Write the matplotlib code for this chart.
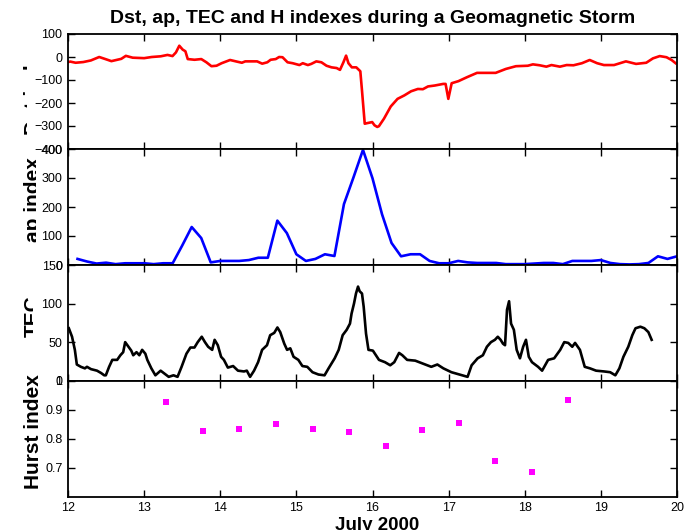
import numpy as np
import matplotlib
matplotlib.use("Agg")
import matplotlib.pyplot as plt
from matplotlib.transforms import Bbox

plt.rcParams['font.family'] = ['Liberation Sans', 'DejaVu Sans']

# ---------------- data ----------------
dst_t = [12.00, 12.03, 12.10, 12.20, 12.30, 12.41, 12.50, 12.57, 12.70, 12.76,
         12.85, 13.00, 13.10, 13.218, 13.307, 13.373, 13.418, 13.462, 13.507, 13.542,
         13.573, 13.662, 13.751, 13.818, 13.884, 13.951, 14.018, 14.129, 14.218, 14.284,
         14.329, 14.418, 14.484, 14.551, 14.618, 14.662, 14.729, 14.773, 14.818, 14.884,
         14.951, 15.04, 15.084, 15.151, 15.196, 15.262, 15.329, 15.396, 15.462, 15.529,
         15.573, 15.618, 15.653, 15.684, 15.729, 15.787, 15.84, 15.862, 15.898, 15.938,
         15.996, 16.027, 16.062, 16.084, 16.151, 16.24, 16.329, 16.418, 16.507, 16.596,
         16.662, 16.729, 16.818, 16.929, 16.96, 16.996, 17.04, 17.129, 17.24, 17.373,
         17.484, 17.618, 17.751, 17.884, 18.04, 18.107, 18.196, 18.284, 18.351, 18.462,
         18.551, 18.64, 18.751, 18.853, 18.951, 19.04, 19.173, 19.329, 19.462, 19.596,
         19.684, 19.773, 19.862, 19.929, 19.982]
dst_v = [-22, -20, -25, -22, -15, 0, -10, -18, -8, 5,
         -3, -5, 0, 3, 9, 4, 20, 49, 32, 25,
         -9, -12, -9, -23, -40, -38, -27, -13, -20, -25,
         -19, -19, -19, -29, -23, -12, -9, 0, -1, -23,
         -27, -35, -27, -35, -30, -19, -23, -38, -45, -48,
         -56, -23, 6, -27, -45, -45, -62, -146, -290, -287,
         -283, -297, -304, -301, -268, -215, -182, -167, -149, -139,
         -140, -128, -124, -117, -117, -182, -114, -105, -88, -69,
         -69, -69, -52, -40, -38, -32, -36, -42, -35, -42,
         -35, -36, -27, -13, -27, -35, -35, -19, -30, -25,
         -6, 4, -1, -13, -27]

ap_t = 12 + np.arange(1, 65) / 8.0
ap_v = [21, 12, 5, 8, 3, 6, 6, 6, 3, 6,
        6, 67, 131, 93, 9, 14, 14, 14, 17, 25,
        25, 153, 110, 37, 14, 21, 37, 31, 210, 302,
        397, 299, 175, 76, 30, 37, 37, 14, 6, 6,
        14, 9, 7, 7, 7, 3, 3, 3, 5, 7,
        7, 3, 14, 14, 14, 17, 7, 3, 2, 3,
        7, 30, 21, 30]

tec_t = [12.011, 12.053, 12.09, 12.116, 12.169, 12.222, 12.249, 12.302, 12.381, 12.434,
         12.476, 12.497, 12.54, 12.582, 12.646, 12.688, 12.725, 12.751, 12.794, 12.831,
         12.857, 12.9, 12.937, 12.974, 13.016, 13.042, 13.095, 13.148, 13.217, 13.27,
         13.323, 13.386, 13.439, 13.492, 13.556, 13.608, 13.661, 13.704, 13.757, 13.799,
         13.841, 13.894, 13.926, 13.968, 14.011, 14.048, 14.1, 14.169, 14.233, 14.312,
         14.349, 14.392, 14.444, 14.497, 14.55, 14.614, 14.656, 14.709, 14.751, 14.788,
         14.841, 14.878, 14.92, 14.963, 15.026, 15.079, 15.143, 15.212, 15.291, 15.37,
         15.423, 15.503, 15.556, 15.608, 15.661, 15.704, 15.725, 15.757, 15.783, 15.81,
         15.831, 15.862, 15.884, 15.915, 15.947, 16.005, 16.085, 16.164, 16.233, 16.286,
         16.349, 16.392, 16.455, 16.561, 16.667, 16.772, 16.852, 16.931, 17.037, 17.143,
         17.249, 17.302, 17.381, 17.45, 17.503, 17.556, 17.608, 17.646, 17.683, 17.714,
         17.741, 17.767, 17.794, 17.82, 17.857, 17.894, 17.937, 17.979, 18.016, 18.053,
         18.095, 18.175, 18.228, 18.307, 18.386, 18.466, 18.519, 18.571, 18.624, 18.661,
         18.725, 18.788, 18.857, 18.937, 19.042, 19.122, 19.19, 19.243, 19.296, 19.36,
         19.413, 19.455, 19.519, 19.571, 19.624, 19.667]
tec_v = [68, 57, 40, 21, 18, 16, 18, 15, 13, 10,
         7, 7, 18, 27, 27, 33, 37, 50, 44, 39,
         33, 37, 33, 40, 35, 27, 16, 7, 13, 9,
         5, 7, 5, 18, 35, 43, 43, 50, 57, 50,
         44, 40, 53, 46, 31, 27, 17, 19, 13, 12,
         13, 5, 13, 24, 40, 46, 59, 62, 69, 63,
         48, 40, 42, 31, 27, 19, 18, 11, 8, 7,
         16, 29, 40, 59, 66, 74, 87, 100, 113, 122,
         116, 113, 96, 61, 40, 39, 27, 24, 20, 24,
         36, 33, 27, 26, 22, 18, 21, 16, 11, 8,
         5, 20, 29, 33, 44, 50, 53, 57, 53, 48,
         46, 92, 103, 74, 66, 40, 29, 44, 53, 31,
         24, 18, 13, 27, 29, 40, 50, 49, 44, 49,
         40, 18, 16, 13, 12, 11, 7, 16, 31, 44,
         59, 68, 70, 68, 63, 53]

hurst_t = [13.291, 13.767, 14.249, 14.735, 15.217, 15.693, 16.175, 16.656, 17.132,
           17.608, 18.09, 18.571]
hurst_v = [0.926, 0.826, 0.833, 0.849, 0.834, 0.823, 0.774, 0.830, 0.854,
           0.723, 0.684, 0.934]

x_ticks = [12, 13, 14, 15, 16, 17, 18, 19, 20]
title = "Dst, ap, TEC and H indexes during a Geomagnetic Storm"
ylabels = ["Dst index", "ap index", "TEC", "Hurst index"]
xlabel = "July 2000"

# ---------------- figure ----------------
W_PX, H_PX = 691, 530
fig = plt.figure(figsize=(W_PX / 100, H_PX / 100), dpi=100)
fig.patch.set_facecolor('white')

left_px, right_px = 68, 677
bounds = [34, 149, 265, 380.7, 496.7]
axes = []
for i in range(4):
    top, bot = bounds[i], bounds[i + 1]
    ax = fig.add_axes([left_px / W_PX, 1 - bot / H_PX,
                       (right_px - left_px) / W_PX, (bot - top) / H_PX])
    axes.append(ax)

ax1, ax2, ax3, ax4 = axes
ax1.plot(dst_t, dst_v, color='#ff0000', lw=1.9)
ax1.set_ylim(-400, 100)
ax1.set_yticks([-400, -300, -200, -100, 0, 100])

ax2.plot(ap_t, ap_v, color='#0000ff', lw=1.9)
ax2.set_ylim(0, 400)
ax2.set_yticks([0, 100, 200, 300, 400])

ax3.plot(tec_t, tec_v, color='black', lw=1.9)
ax3.set_ylim(0, 150)
ax3.set_yticks([0, 50, 100, 150])

ax4.plot(hurst_t, hurst_v, linestyle='none', marker='s', color='#ff00ff',
         markersize=4.5, markeredgewidth=0)
ax4.set_ylim(0.6, 1.0)
ax4.set_yticks([0.7, 0.8, 0.9, 1.0])
ax4.set_yticklabels(['0.7', '0.8', '0.9', '1'])

for i, ax in enumerate(axes):
    ax.set_xlim(12, 20)
    ax.set_xticks(x_ticks)
    ax.tick_params(direction='in', length=5, width=1, top=True, right=True,
                   labelsize=9, pad=4, colors='black')
    for s in ax.spines.values():
        s.set_linewidth(1.3)
    if i < 3:
        ax.tick_params(labelbottom=False)
    else:
        ax.set_xticklabels([str(v) for v in x_ticks])

# y labels (partly clipped on the right as in the reference)
base_px = 39.0   # right edge of the label box
clip_right = [27.0, 35.5, 32.5, None]
label_y = [0.53, 0.56, 0.56, 0.56]
for ax, lab, cr, ly in zip(axes, ylabels, clip_right, label_y):
    t = ax.set_ylabel(lab, fontsize=15, fontweight='bold')
    ax.yaxis.set_label_coords((base_px + 4.0 - left_px) / (right_px - left_px), ly)
    if cr is not None:
        t.set_clip_on(True)
        t.set_clip_box(Bbox.from_extents(0, 0, cr, H_PX))

fig.text(372.5 / W_PX, 1 - 23 / H_PX, title, ha='center', va='baseline',
         fontsize=14, fontweight='bold')
fig.text(377 / W_PX, 1 - 530.5 / H_PX, xlabel, ha='center', va='baseline',
         fontsize=13.5, fontweight='bold')

fig.savefig('out.png', dpi=100, facecolor='white')
